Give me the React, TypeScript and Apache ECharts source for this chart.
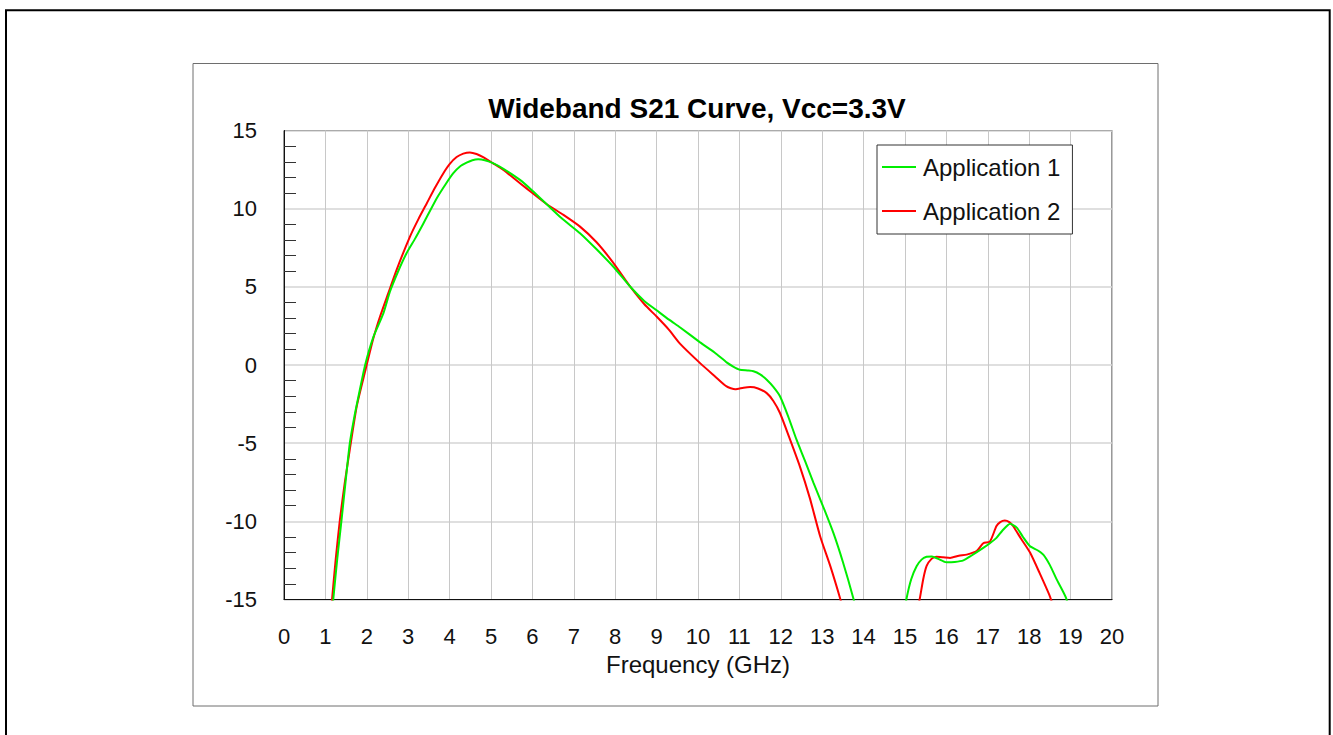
import React, { useEffect, useRef } from "react";
import * as echarts from "echarts";

const chartTitle = "Wideband S21 Curve, Vcc=3.3V";
const xAxisName = "Frequency (GHz)";
const seriesNames = ["Application 1", "Application 2"];

const app1Freq = [
  1.0, 1.19, 1.29, 1.39, 1.49, 1.59, 1.7, 1.8, 1.96, 2.16, 2.4, 2.56, 2.75, 2.96, 3.17, 3.37, 3.69, 3.9,
  4.09, 4.25, 4.41, 4.55, 4.69, 4.85, 5.06, 5.3, 5.7, 6.0, 6.34, 6.7, 7.15, 7.55, 7.95, 8.36, 8.7, 9.0,
  9.3, 9.57, 10.05, 10.4, 10.7, 10.85, 11.01, 11.2, 11.34, 11.5, 11.66, 11.82, 11.98, 12.18, 12.38,
  12.58, 12.79, 13.03, 13.27, 13.5, 13.75, 13.9, 14.2, 14.7, 14.9, 15.04, 15.15, 15.28, 15.4, 15.52,
  15.65, 15.8, 16.0, 16.2, 16.41, 16.6, 16.89, 17.05, 17.21, 17.35, 17.54, 17.7, 17.85, 18.02, 18.2,
  18.34, 18.5, 18.66, 18.89, 19.05, 19.2,
];
const app1S21 = [
  -20.5, -15, -12.3, -9.9, -7.4, -5.0, -3.3, -2.0, 0.0, 1.8, 3.3, 4.7, 5.95, 7.15, 8.1, 9.07, 10.67, 11.55,
  12.27, 12.7, 12.94, 13.1, 13.16, 13.1, 12.9, 12.55, 11.84, 11.15, 10.3, 9.4, 8.43, 7.4, 6.3, 5.02, 4.1, 3.5,
  2.9, 2.4, 1.45, 0.8, 0.15, -0.1, -0.3, -0.35, -0.4, -0.6, -0.94, -1.4, -2.0, -3.3, -4.78,
  -6.1, -7.54, -9.1, -10.74, -12.6, -14.9, -16.5, -20, -20, -17, -14.9, -13.7, -12.87, -12.45, -12.27,
  -12.25, -12.4, -12.62, -12.6, -12.5, -12.2, -11.7, -11.4, -11.06, -10.6, -10.16, -10.4, -11.0, -11.6, -11.85,
  -12.13, -12.8, -13.7, -14.9, -16.5, -18,
];

const app2Freq = [
  0.97, 1.16, 1.25, 1.35, 1.47, 1.59, 1.76, 1.96, 2.16, 2.32, 2.52, 2.72, 3.04, 3.25, 3.45, 3.65, 3.85,
  4.0, 4.17, 4.33, 4.49, 4.65, 4.81, 5.05, 5.3, 5.7, 6.0, 6.34, 6.75, 7.15, 7.55, 7.95, 8.36, 8.7, 9.0,
  9.3, 9.57, 10.05, 10.4, 10.69, 10.9, 11.1, 11.26, 11.45, 11.66, 11.82, 11.98, 12.2, 12.46, 12.7,
  12.95, 13.2, 13.43, 13.6, 13.9, 15.0, 15.2, 15.36, 15.44, 15.52, 15.64, 15.76, 15.92, 16.09, 16.3,
  16.49, 16.73, 16.89, 17.05, 17.21, 17.3, 17.41, 17.52, 17.61, 17.8, 18.02, 18.25, 18.5, 18.65, 18.9,
];
const app2S21 = [
  -20.5, -15, -12.4, -9.9, -7.5, -5.4, -2.6, -0.4, 1.72, 3.1, 4.6, 6.09, 8.2, 9.35, 10.35, 11.35, 12.27,
  12.85, 13.3, 13.52, 13.6, 13.5, 13.29, 12.9, 12.48, 11.63, 11.0, 10.3, 9.6, 8.85, 7.85, 6.55, 5.02, 3.9, 3.1,
  2.25, 1.35, 0.12, -0.7, -1.37, -1.55, -1.45, -1.41, -1.5, -1.8, -2.3, -3.07, -4.6, -6.48, -8.5,
  -10.95, -12.9, -14.9, -16.5, -20, -20, -17, -14.9, -13.7, -12.87, -12.4, -12.27, -12.3, -12.34, -12.2,
  -12.13, -11.9, -11.4, -11.3, -10.3, -10.05, -9.95, -10.05, -10.3, -11.1, -12.0, -13.3, -14.8, -16, -18,
];

const xMin = 0;
const xMax = 20;
const xStep = 1;
const yMin = -15;
const yMax = 15;
const yStep = 5;

const FONT = "'Liberation Sans', Arial, Helvetica, sans-serif";

function zip(xs: number[], ys: number[]) {
  return xs.map((x, i) => [x, ys[i]]);
}

export default function App() {
  const ref = useRef<HTMLDivElement>(null);

  useEffect(() => {
    if (!ref.current) return;
    const chart = echarts.init(ref.current, undefined, { renderer: "svg" });
    chart.setOption({
      animation: false,
      backgroundColor: "#ffffff",
      textStyle: { fontFamily: FONT },
      title: {
        text: chartTitle,
        left: 697,
        top: 94,
        padding: 0,
        textAlign: "center",
        textStyle: { fontFamily: FONT, fontSize: 28, fontWeight: "bold", color: "#000", lineHeight: 28 },
      },
      graphic: [
        {
          type: "rect",
          silent: true,
          z: -10,
          shape: { x: 6, y: 10.3, width: 1323.7, height: 800 },
          style: { fill: "none", stroke: "#000", lineWidth: 2 },
        },
        {
          type: "rect",
          silent: true,
          z: -10,
          shape: { x: 193, y: 63.5, width: 965, height: 642.5 },
          style: { fill: "none", stroke: "#6e6e6e", lineWidth: 1 },
        },
      ],
      legend: {
        data: seriesNames,
        orient: "vertical",
        left: 877,
        top: 145,
        padding: [10, 12, 11, 5],
        itemGap: 20,
        itemWidth: 34,
        itemHeight: 2,
        icon: "rect",
        borderColor: "#333",
        borderWidth: 1,
        backgroundColor: "#fff",
        textStyle: { fontFamily: FONT, fontSize: 24, color: "#111", lineHeight: 24, padding: [0, 0, 0, 2] },
      },
      grid: {
        left: 284,
        top: 130.5,
        right: 221,
        bottom: 135.5,
        show: true,
        borderColor: "#333",
        borderWidth: 1,
        backgroundColor: "transparent",
      },
      xAxis: {
        type: "value",
        min: xMin,
        max: xMax,
        interval: xStep,
        name: xAxisName,
        nameLocation: "middle",
        nameGap: 47,
        nameTextStyle: { fontFamily: FONT, fontSize: 24, color: "#111", lineHeight: 24 },
        axisLine: { show: true, onZero: false, lineStyle: { color: "#111", width: 1 } },
        axisTick: { show: false },
        axisLabel: { fontFamily: FONT, fontSize: 22, color: "#111", margin: 26, lineHeight: 22 },
        splitLine: { show: true, lineStyle: { color: "#c8c8c8", width: 1 } },
      },
      yAxis: {
        type: "value",
        min: yMin,
        max: yMax,
        interval: yStep,
        axisLine: { show: true, onZero: false, lineStyle: { color: "#111", width: 1 } },
        axisTick: { show: false, inside: true },
        minorTick: { show: true, splitNumber: 5, length: 12, lineStyle: { color: "#333", width: 1 } },
        axisLabel: { fontFamily: FONT, fontSize: 22, color: "#111", margin: 27, padding: [6, 0, 0, 0] },
        splitLine: { show: true, lineStyle: { color: "#d4d4d4", width: 1.5 } },
      },
      series: [
        {
          name: seriesNames[0],
          type: "line",
          data: zip(app1Freq, app1S21),
          showSymbol: false,
          symbol: "none",
          smooth: 0.2,
          clip: true,
          color: "#00ee00",
          lineStyle: { color: "#00ee00", width: 2 },
          z: 3,
        },
        {
          name: seriesNames[1],
          type: "line",
          data: zip(app2Freq, app2S21),
          showSymbol: false,
          symbol: "none",
          smooth: 0.2,
          clip: true,
          color: "#ff0000",
          lineStyle: { color: "#ff0000", width: 2 },
          z: 2,
        },
      ],
    });
    return () => chart.dispose();
  }, []);

  return (
    <div
      ref={ref}
      style={{ position: "fixed", left: 0, top: 0, width: 1333, height: 735, background: "#fff" }}
    />
  );
}
